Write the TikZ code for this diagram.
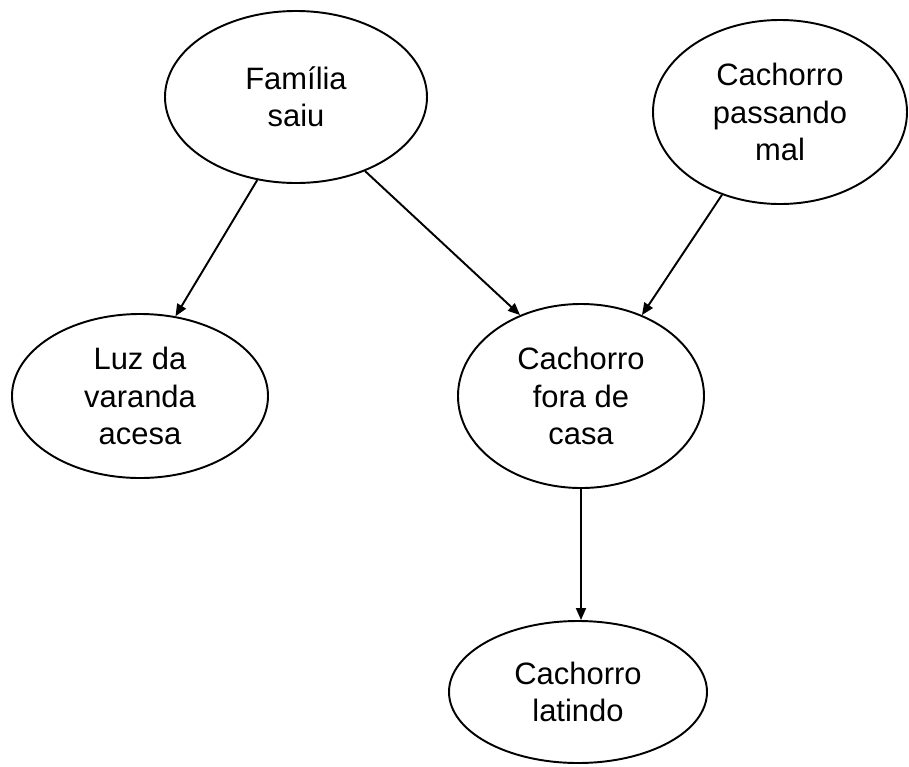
\documentclass[tikz,border=0pt]{standalone}
\usepackage{fontspec}
\setmainfont{Liberation Sans}
\usetikzlibrary{arrows.meta,shapes.geometric}
\tikzset{
  event/.style  = {shape=ellipse, draw, line width=1.1pt, inner sep=0pt,
                   align=center, font=\fontsize{17.6}{21.3}\selectfont},
  cause/.style  = {event, minimum width=5.24cm, minimum height=3.44cm},
  effect/.style = {event, minimum width=5.12cm, minimum height=3.28cm}
}

\begin{document}
\begin{tikzpicture}
  [
    link/.style = {draw, line width=1.1pt, -{Triangle[length=0.24cm, width=0.2cm]}}
  ]
  \useasboundingbox (0,0) rectangle (18.18,-15.32);

  \node [cause] (familia) at (5.92,-1.94) {Família\\saiu};
  \node [cause, minimum width=5.08cm, minimum height=3.68cm] (passando) at (15.6,-2.24)
        {Cachorro\\passando\\mal};
  \node [effect] (luz) at (2.8,-7.92) {Luz da\\varanda\\acesa};
  \node [effect, minimum width=4.92cm, minimum height=3.68cm] (fora) at (11.62,-7.92)
        {Cachorro\\fora de\\casa};
  \node [effect, minimum width=5.16cm, minimum height=2.84cm] (latindo) at (11.56,-13.84)
        {Cachorro\\latindo};

  \draw [link] (familia.-115) -- (luz.66);
  \draw [link] (familia.-47) -- (fora.127);
  \draw [link] (passando.-125) -- (fora.53);
  \draw [link] (fora.south) -- (fora.south |- latindo.north);
\end{tikzpicture}
\end{document}
